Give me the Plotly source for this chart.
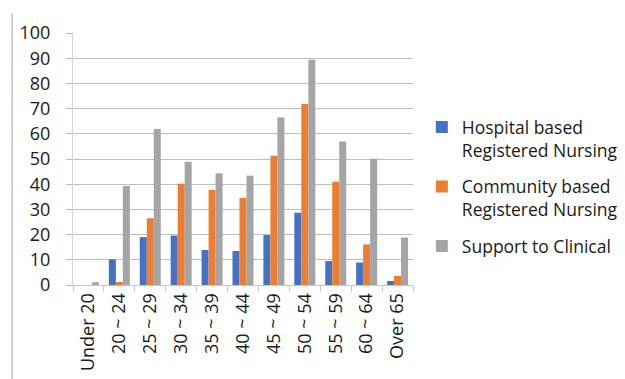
import plotly.graph_objects as go

age_groups = ["Under 20", "20 ~ 24", "25 ~ 29", "30 ~ 34", "35 ~ 39", "40 ~ 44",
              "45 ~ 49", "50 ~ 54", "55 ~ 59", "60 ~ 64", "Over 65"]
hospital_rn = [0, 10.2, 19.0, 19.6, 13.9, 13.5, 19.8, 28.7, 9.5, 8.9, 1.6]
community_rn = [0, 1.2, 26.5, 40.2, 37.7, 34.6, 51.3, 71.8, 41.0, 16.1, 3.6]
support_clinical = [1.1, 39.3, 61.9, 48.9, 44.3, 43.4, 66.5, 89.4, 56.9, 50.1, 18.8]
y_ticks = list(range(0, 101, 10))

series = [
    ("Hospital based<br>Registered Nursing", hospital_rn, "#4472C4"),
    ("Community based<br>Registered Nursing", community_rn, "#ED7D31"),
    ("Support to Clinical", support_clinical, "#A5A5A5"),
]

fig = go.Figure()
for i, (name, vals, color) in enumerate(series):
    fig.add_trace(go.Bar(x=age_groups, y=vals, name=name, marker_color=color,
                         marker_line_width=0, legendgroup=f"g{i}"))

font_family = "Open Sans, Noto Sans, sans-serif"
text_color = "#1a1a1a"
fig.update_layout(
    width=625, height=379,
    margin=dict(l=73, r=212, t=33, b=94, autoexpand=False),
    paper_bgcolor="white", plot_bgcolor="white",
    barmode="group", bargap=0.32, bargroupgap=0,
    font=dict(family=font_family, size=18, color=text_color),
    legend=dict(x=1.026, xanchor="left", y=0.39, yanchor="middle", valign="top",
                traceorder="grouped", tracegroupgap=11,
                font=dict(size=17.5, color=text_color),
                itemwidth=30, bgcolor="rgba(0,0,0,0)"),
    xaxis=dict(tickangle=-90, showline=True, linecolor="#c8c8c8", linewidth=1,
               ticks="outside", tickson="boundaries", ticklen=6, tickcolor="#c8c8c8",
               showgrid=False, tickfont=dict(size=18), automargin=False),
    yaxis=dict(range=[0, 100], tickvals=y_ticks, showline=True, linecolor="#d4d4d4",
               linewidth=1, ticks="outside", ticklen=6, tickcolor="#bdbdbd",
               ticklabelstandoff=12, automargin=False,
               showgrid=True, gridcolor="#bdbdbd", gridwidth=1, zeroline=False,
               tickfont=dict(size=18)),
    shapes=[dict(type="line", xref="paper", yref="paper",
                 x0=-0.179, x1=-0.179, y0=1.079, y1=-0.4,
                 line=dict(color="#a6a6a6", width=1))],
)

fig.write_html("out.html")
